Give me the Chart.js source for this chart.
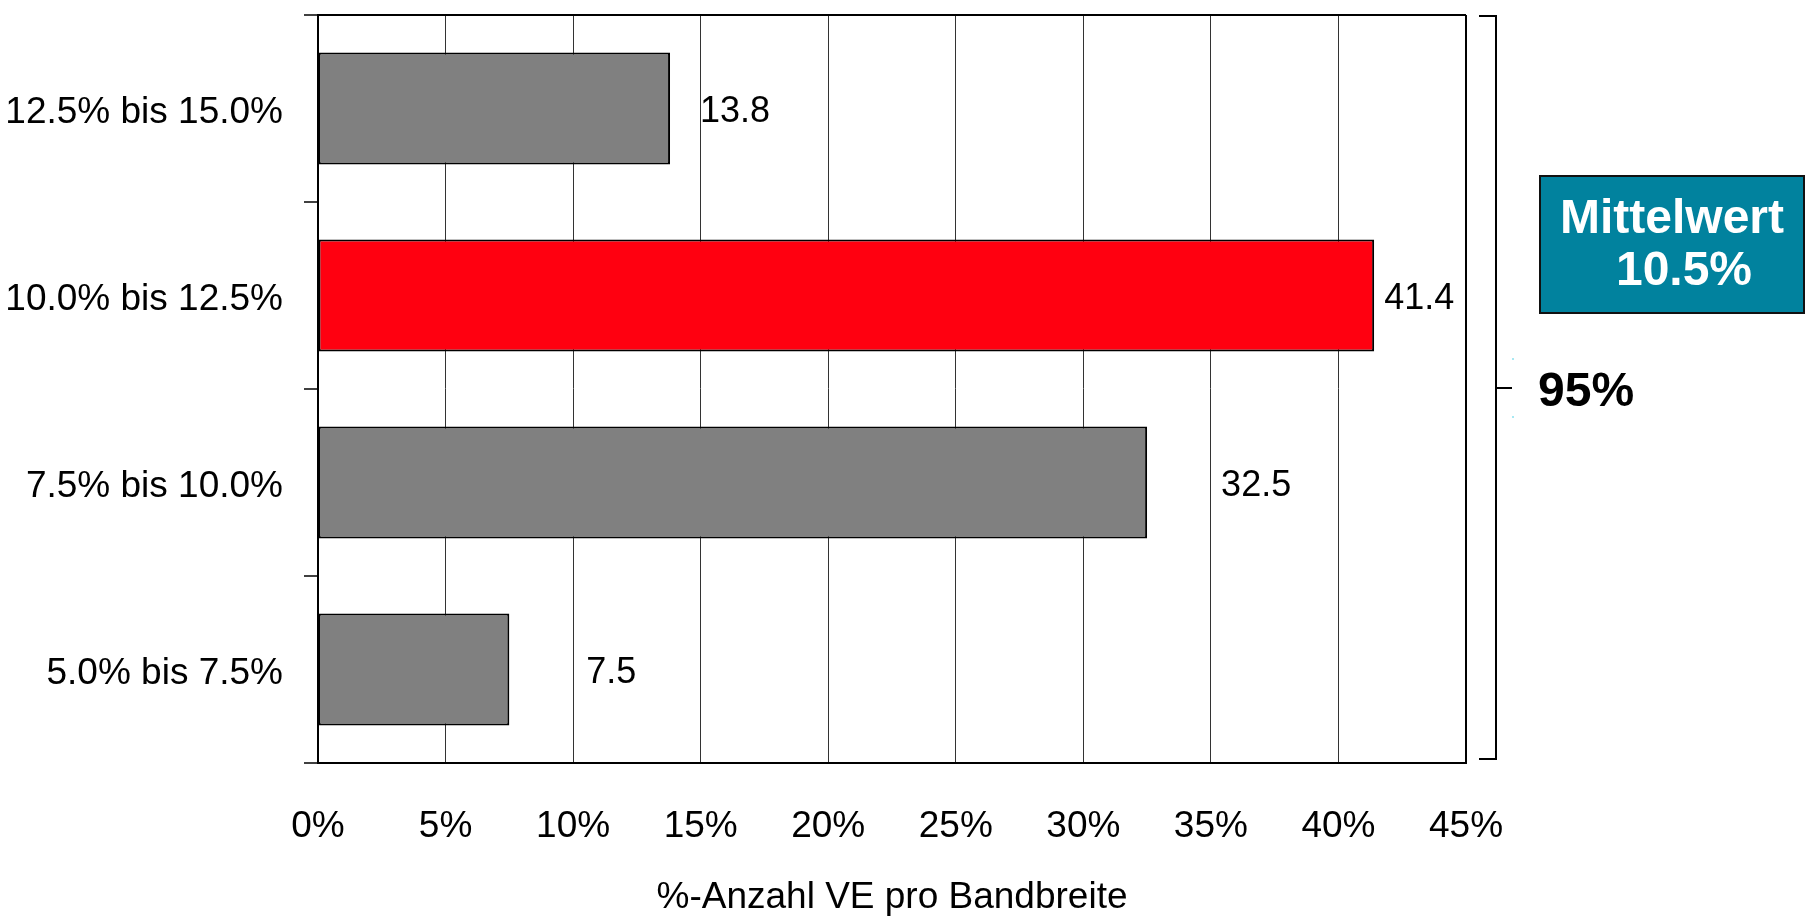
<!DOCTYPE html>
<html lang="de">
<head>
<meta charset="utf-8">
<title>Verteilung VE pro Bandbreite</title>
<script src="https://cdn.jsdelivr.net/npm/chart.js@4/dist/chart.umd.min.js"></script>
<style>
  html, body { margin: 0; padding: 0; background: #ffffff; }
  #wrap { position: relative; width: 1807px; height: 923px; }
</style>
</head>
<body>
<div id="wrap"><canvas id="chart"></canvas></div>
<script>
// Bandbreiten (oben nach unten) und Anteil der VE je Bandbreite in %
const categories = ['12.5% bis 15.0%', '10.0% bis 12.5%', '7.5% bis 10.0%', '5.0% bis 7.5%'];
const shares = [13.8, 41.4, 32.5, 7.5];
const xTicks = [0, 5, 10, 15, 20, 25, 30, 35, 40, 45];
const meanLabel = ['Mittelwert', '10.5%'];
const rangeLabel = '95%';
const axisTitle = '%-Anzahl VE pro Bandbreite';

// Darstellung
const barColors = ['#808080', '#FF0010', '#808080', '#808080'];
const valueLabelShift = [30, 10, 74, 77];   // Abstand der Wertbeschriftung vom Balkenende (px)
const FONT = '"Liberation Sans", Arial, Helvetica, sans-serif';

// Wertbeschriftungen neben den Balken
const valueLabels = {
  id: 'valueLabels',
  afterDatasetsDraw(chart) {
    const { ctx } = chart;
    const meta = chart.getDatasetMeta(0);
    ctx.save();
    ctx.font = '36px ' + FONT;
    ctx.fillStyle = '#000';
    ctx.textAlign = 'left';
    ctx.textBaseline = 'middle';
    meta.data.forEach((bar, i) => {
      ctx.fillText(shares[i].toFixed(1), bar.x + valueLabelShift[i], bar.y + 4);
    });
    ctx.restore();
  }
};

// Klammer für das 95%-Intervall und Kasten mit dem Mittelwert
const sideNotes = {
  id: 'sideNotes',
  afterDraw(chart) {
    const { ctx, chartArea } = chart;
    const top = chartArea.top + 1;
    const bottom = chartArea.bottom - 4;
    const bx = 1496;
    const midY = 388;
    ctx.save();
    ctx.strokeStyle = '#000';
    ctx.lineWidth = 2;
    ctx.beginPath();
    ctx.moveTo(1479, top);
    ctx.lineTo(bx, top);
    ctx.lineTo(bx, bottom);
    ctx.lineTo(1479, bottom);
    ctx.moveTo(bx, midY);
    ctx.lineTo(1512, midY);
    ctx.stroke();

    ctx.fillStyle = '#a8e8f2';
    ctx.fillRect(1512, 358, 2, 2);
    ctx.fillRect(1512, 416, 2, 2);

    ctx.fillStyle = '#000';
    ctx.font = 'bold 48px ' + FONT;
    ctx.textAlign = 'left';
    ctx.textBaseline = 'alphabetic';
    ctx.fillText(rangeLabel, 1538, 406);

    ctx.fillStyle = '#01829E';
    ctx.fillRect(1540, 176, 264, 137);
    ctx.strokeStyle = '#111';
    ctx.lineWidth = 2;
    ctx.strokeRect(1540, 176, 264, 137);

    ctx.fillStyle = '#ffffff';
    ctx.textAlign = 'center';
    ctx.fillText(meanLabel[0], 1672, 233);
    ctx.fillText(meanLabel[1], 1684, 285);
    ctx.restore();
  }
};

const whiteBg = {
  id: 'whiteBg',
  beforeDraw(chart) {
    const { ctx, width, height } = chart;
    ctx.save();
    ctx.fillStyle = '#ffffff';
    ctx.fillRect(0, 0, width, height);
    ctx.restore();
  }
};

new Chart(document.getElementById('chart'), {
  type: 'bar',
  data: {
    labels: categories,
    datasets: [{
      data: shares,
      backgroundColor: barColors,
      borderColor: '#000',
      borderWidth: 2,
      borderSkipped: false,
      barPercentage: 0.6,
      categoryPercentage: 1.0
    }]
  },
  options: {
    indexAxis: 'y',
    responsive: true,
    maintainAspectRatio: false,
    animation: false,
    devicePixelRatio: 1,
    layout: { padding: { left: 0, top: 15, right: 341, bottom: 0 } },
    plugins: {
      legend: { display: false },
      tooltip: { enabled: false },
      title: { display: false }
    },
    scales: {
      x: {
        type: 'linear',
        min: 0,
        max: 45,
        afterBuildTicks(scale) {
          scale.ticks = xTicks.map(v => ({ value: v }));
        },
        afterFit(scale) {
          scale.height = 160;
          scale.paddingLeft = 0;
          scale.paddingRight = 0;
        },
        ticks: {
          padding: 42,
          color: '#000',
          font: { family: FONT, size: 37 },
          callback: v => v + '%'
        },
        grid: {
          drawTicks: false,
          color: c => (c.tick && c.tick.value === 45) ? '#000' : '#333',
          lineWidth: c => (c.tick && c.tick.value === 45) ? 2 : 1
        },
        border: { color: '#000', width: 2 },
        title: {
          display: true,
          text: axisTitle,
          color: '#000',
          font: { family: FONT, size: 37 },
          padding: { top: 0, bottom: 3 }
        }
      },
      y: {
        afterFit(scale) {
          scale.width = 318;
          scale.paddingTop = 0;
          scale.paddingBottom = 0;
        },
        ticks: {
          padding: 21,
          labelOffset: 4,
          color: '#000',
          font: { family: FONT, size: 37 }
        },
        grid: {
          offset: true,
          tickLength: 14,
          tickColor: '#000',
          tickWidth: 1.5,
          lineWidth: 2,
          color: c => (c.index === 0) ? '#000' : 'rgba(0,0,0,0)'
        },
        border: { color: '#000', width: 2 }
      }
    }
  },
  plugins: [whiteBg, valueLabels, sideNotes]
});
</script>
</body>
</html>
